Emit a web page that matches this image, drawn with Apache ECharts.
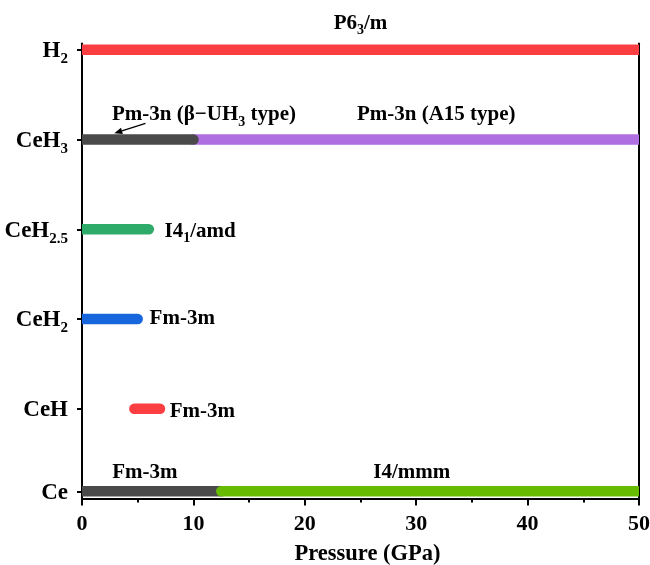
<!DOCTYPE html>
<html>
<head>
<meta charset="utf-8">
<script src="https://cdn.jsdelivr.net/npm/echarts@6/dist/echarts.min.js"></script>
<style>
  html, body { margin: 0; padding: 0; background: #fff; }
  #chart { width: 650px; height: 565px; }
</style>
</head>
<body>
<div id="chart"></div>
<script>
// Rows of the phase diagram (bottom to top) and their level on the y scale
const rows = ['Ce', 'CeH', 'CeH_{2}', 'CeH_{2.5}', 'CeH_{3}', 'H_{2}'];
const rowLevels = [0.08, 1, 2, 3, 4, 5];

// Stability ranges (GPa); drawn in this order, later ones on top
const phaseRow  = [5, 4, 4, 3, 2, 1, 0, 0];
const phaseFrom = [0, 10, 0, 0, 0, 4.7, 0, 12.5];
const phaseTo   = [50, 50, 10, 6, 5, 7, 12.5, 50];
const phaseColors = ['#fb3e41', '#b06fe0', '#4a4a4a', '#2eab68', '#1866de', '#fb3e41', '#4a4a4a', '#67bb00'];

// Space-group names
const phaseNames = ['P6_{3}/m', 'Pm-3n (β−UH_{3} type)', 'Pm-3n (A15 type)', 'I4_{1}/amd', 'Fm-3m', 'Fm-3m', 'Fm-3m', 'I4/mmm'];
const nameAtP = [25, 10.95, 31.8, 10.6, 9.0, 10.8, 5.65, 29.6];
const nameAtY = [5.31, 4.29, 4.29, 2.99, 2.02, 0.98, 0.31, 0.31];

// Pointer from the β−UH3 label to its bar
const arrowFrom = [5.7, 4.18];
const arrowTo = [2.9, 4.07];

const xTicks = [0, 10, 20, 30, 40, 50];
const X_MIN = xTicks[0], X_MAX = xTicks[xTicks.length - 1];

const FONT = '"Liberation Serif", "Times New Roman", serif';
const BAR_H = 10.5;

// 'CeH_{3}' -> rich text with a lowered subscript
function richSub(str) {
  return '{b|' + str.replace(/_\{([^}]*)\}/g, '}{s|$1}{b|') + '}';
}

// base/sub font sizes; drop = how far the subscript centre sits below the base text centre
function richStyles(base, sub, drop) {
  const L = base + 2;
  const padTop = L / 2 + drop - sub / 2;
  return {
    b: { fontFamily: FONT, fontWeight: 'bold', fontSize: base, color: '#000', verticalAlign: 'top', lineHeight: L },
    s: { fontFamily: FONT, fontWeight: 'bold', fontSize: sub, color: '#000', verticalAlign: 'top', lineHeight: L - padTop, padding: [padTop, 0, 0, 0] }
  };
}

// Thick rounded bars; ends sitting on the frame are cut square
function renderBar(params, api) {
  const from = api.value(0), to = api.value(1), y = api.value(2);
  const p0 = api.coord([from, y]);
  const p1 = api.coord([to, y]);
  const r = BAR_H / 2;
  const openL = from > X_MIN, openR = to < X_MAX;
  const x0 = p0[0] - (openL ? r : 0);
  const x1 = p1[0] + (openR ? r : 0);
  return {
    type: 'rect',
    shape: {
      x: x0, y: p0[1] - r, width: x1 - x0, height: BAR_H,
      r: [openL ? r : 0, openR ? r : 0, openR ? r : 0, openL ? r : 0]
    },
    style: { fill: api.visual('color') }
  };
}

// Thin pointer with a filled triangular head at the far end
function renderArrow(params, api) {
  const a = api.coord([api.value(0), api.value(1)]);
  const b = api.coord([api.value(2), api.value(3)]);
  const dx = b[0] - a[0], dy = b[1] - a[1];
  const len = Math.sqrt(dx * dx + dy * dy);
  const ux = dx / len, uy = dy / len;
  const headL = 8, headW = 3.2;
  const bx = b[0] - ux * headL, by = b[1] - uy * headL;
  return {
    type: 'group',
    children: [{
      type: 'line',
      shape: { x1: a[0], y1: a[1], x2: bx, y2: by },
      style: { stroke: '#000', lineWidth: 1.3 }
    }, {
      type: 'polygon',
      shape: { points: [[b[0], b[1]], [bx - uy * headW, by + ux * headW], [bx + uy * headW, by - ux * headW]] },
      style: { fill: '#000' }
    }]
  };
}

const barData = phaseRow.map((row, i) => ({
  value: [phaseFrom[i], phaseTo[i], rowLevels[row]],
  itemStyle: { color: phaseColors[i] }
}));

const chart = echarts.init(document.getElementById('chart'), null, { renderer: 'canvas' });
chart.setOption({
  animation: false,
  backgroundColor: '#fff',
  grid: { left: 82, right: 11, top: 43.5, bottom: 66.5, outerBoundsMode: 'none', containLabel: false },
  xAxis: {
    type: 'value',
    min: X_MIN,
    max: X_MAX,
    interval: 10,
    name: 'Pressure (GPa)',
    nameLocation: 'middle',
    nameGap: 44,
    nameTextStyle: { fontFamily: FONT, fontWeight: 'bold', fontSize: 22.5, color: '#000', padding: [0, 0, 0, 14] },
    axisLine: { show: true, onZero: false, lineStyle: { color: '#000', width: 2 } },
    axisTick: { show: true, inside: false, length: 7, lineStyle: { color: '#000', width: 2 } },
    minorTick: { show: true, splitNumber: 2, length: 4, lineStyle: { color: '#000', width: 2 } },
    axisLabel: { fontFamily: FONT, fontWeight: 'bold', fontSize: 22, color: '#000', margin: 15 },
    splitLine: { show: false }
  },
  yAxis: [{
    type: 'value',
    min: 0,
    max: 5.07,
    axisLine: { show: true, onZero: false, lineStyle: { color: '#000', width: 2 } },
    axisTick: { show: true, inside: false, length: 5, customValues: rowLevels, lineStyle: { color: '#000', width: 2 } },
    axisLabel: {
      show: true,
      margin: 14,
      padding: [5, 0, 0, 0],
      customValues: rowLevels,
      formatter: v => {
        const k = rowLevels.findIndex(l => Math.abs(l - v) < 1e-6);
        return k < 0 ? '' : richSub(rows[k]);
      },
      rich: richStyles(23, 15, 7)
    },
    splitLine: { show: false }
  }, {
    type: 'value',
    position: 'right',
    min: 0,
    max: 5.07,
    axisLine: { show: true, onZero: false, lineStyle: { color: '#000', width: 2 } },
    axisTick: { show: false },
    axisLabel: { show: false },
    splitLine: { show: false }
  }],
  series: [{
    type: 'custom',
    renderItem: renderBar,
    clip: true,
    silent: true,
    encode: { x: [0, 1], y: 2 },
    data: barData,
    z: 2
  }, {
    type: 'custom',
    renderItem: renderArrow,
    clip: false,
    silent: true,
    encode: { x: [0, 2], y: [1, 3] },
    data: [[arrowFrom[0], arrowFrom[1], arrowTo[0], arrowTo[1]]],
    z: 15
  }, {
    type: 'scatter',
    symbolSize: 0,
    clip: false,
    silent: true,
    z: 20,
    itemStyle: { opacity: 1 },
    data: phaseNames.map((n, i) => ({ value: [nameAtP[i], nameAtY[i]], name: n })),
    label: {
      show: true,
      position: 'inside',
      offset: [0, 2.5],
      align: 'center',
      verticalAlign: 'middle',
      color: '#000',
      opacity: 1,
      textBorderWidth: 0,
      formatter: p => richSub(p.name),
      rich: richStyles(21, 14, 6)
    }
  }]
});
</script>
</body>
</html>
